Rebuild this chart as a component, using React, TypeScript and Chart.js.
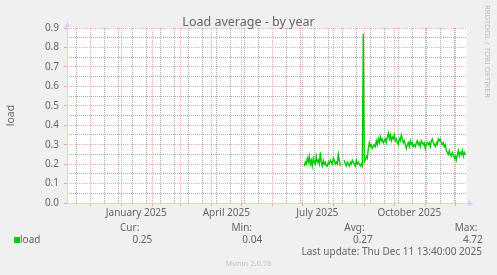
import React, { useEffect, useRef } from "react";
import { Chart, registerables } from "chart.js";

Chart.register(...registerables);

// x values are days counted from 2024-12-01
const xMin = -23.3;
const xMax = 376.7;
const firstDay = 214;

// daily load averages (null = no data)
const loadValues: (number | null)[] = [
  0.19, 0.21, 0.2, 0.23, 0.21, 0.24, 0.2, 0.22, 0.19, 0.23, 0.21, 0.2, 0.24, 0.21, 0.22, 0.2, 0.26, 0.21, 0.19,
  0.22, 0.2, 0.21, 0.19, 0.19, 0.21, 0.2, 0.22, 0.21, 0.2, 0.23, 0.22, 0.2, 0.21, 0.2, 0.25, 0.22, 0.19,
  null, null, null,
  0.22, 0.2, 0.19, 0.21, 0.2, 0.19, 0.21, 0.2, 0.22, 0.21, 0.2, 0.19, 0.22, 0.2, 0.21, 0.2, 0.19, 0.2, 0.19,
  0.87,
  0.21, 0.22, 0.24, 0.23, 0.28, 0.31, 0.29, 0.3, 0.28, 0.29,
  0.3, 0.29, 0.32, 0.3, 0.33, 0.31, 0.34, 0.32, 0.33, 0.31,
  0.32, 0.33, 0.31, 0.34, 0.36, 0.33, 0.35, 0.32, 0.34, 0.33,
  0.35, 0.32, 0.33, 0.31, 0.3, 0.33, 0.32, 0.35, 0.33, 0.31,
  0.32, 0.3, 0.28, 0.3, 0.31, 0.29, 0.32, 0.3, 0.31, 0.29,
  0.3, 0.29, 0.31, 0.32, 0.3, 0.31, 0.29, 0.32, 0.31, 0.3,
  0.31, 0.28, 0.3, 0.31, 0.3, 0.31, 0.29, 0.32, 0.33, 0.31,
  0.3, 0.29, 0.31, 0.3, 0.33, 0.32, 0.33, 0.31, 0.3, 0.31,
  0.29, 0.3, 0.27, 0.26, 0.25, 0.27, 0.25, 0.24, 0.26, 0.25,
  0.23, 0.24, 0.22, 0.25, 0.27, 0.24, 0.26, 0.25, 0.27, 0.24,
  0.26, 0.25, 0.25,
];

const monthStartDays = [0, 31, 62, 90, 121, 151, 182, 212, 243, 274, 304, 335, 365];
const minorGridDays = [-14, 0, 14, 28, 42, 56, 70, 84, 98, 112, 126, 140, 154, 168, 182, 196, 210, 224, 238, 252, 266, 280, 294, 308, 322, 336, 350, 364];
const labelDays = [46, 136, 227, 319];
const monthLabels = ["January 2025", "April 2025", "July 2025", "October 2025"];

const yMax = 0.9;
const yStep = 0.05;

const legendLabel = "load";
const legendCur = "0.25";
const legendMin = "0.04";
const legendAvg = "0.27";
const legendMax = "4.72";
const titleText = "Load average - by year";
const yTitle = "load";
const lastUpdate = "Last update: Thu Dec 11 13:40:00 2025";
const footerText = "Munin 2.0.76";
const watermark = "RRDTOOL / TOBI OETIKER";

const FONT = "'Noto Sans', 'DejaVu Sans', sans-serif";
const TEXT = "#666666";
const AXIS = "#CFD6F8";
const MAJOR = "rgba(225,70,70,0.45)";
const MINOR = "rgba(100,100,100,0.55)";
const NONE = "rgba(0,0,0,0)";
const LINE = "#00CC00";

const isMajorY = (v: number) => Math.round(v * 100) % 10 === 0;

export default function App() {
  const ref = useRef<HTMLCanvasElement | null>(null);

  useEffect(() => {
    const canvas = ref.current;
    if (!canvas) return;

    const points = loadValues.map((v, i) => ({ x: firstDay + i, y: v }));
    const tickSet = new Set<number>([...monthStartDays, ...minorGridDays, ...labelDays]);
    const tickValues = Array.from(tickSet).sort((a, b) => a - b);
    const yTicks: number[] = [];
    for (let k = 0; k <= Math.round(yMax / yStep); k++) yTicks.push(Math.round(k * yStep * 100) / 100);

    const bgPlugin = {
      id: "munin",
      beforeDraw(chart: any) {
        const { ctx, chartArea: a } = chart;
        ctx.save();
        ctx.fillStyle = "#F0F0F0";
        ctx.fillRect(0, 0, chart.width, chart.height);
        ctx.fillStyle = "#FFFFFF";
        ctx.fillRect(a.left, a.top, a.right - a.left, a.bottom - a.top);
        ctx.restore();
      },
      afterDraw(chart: any) {
        const { ctx, chartArea: a } = chart;
        ctx.save();
        ctx.strokeStyle = AXIS;
        ctx.lineWidth = 1;
        ctx.beginPath();
        ctx.moveTo(a.left + 0.5, a.bottom + 0.5);
        ctx.lineTo(a.left + 0.5, a.top - 2);
        ctx.moveTo(a.left, a.bottom + 0.5);
        ctx.lineTo(a.right + 2, a.bottom + 0.5);
        ctx.stroke();
        ctx.fillStyle = AXIS;
        ctx.beginPath();
        ctx.moveTo(a.left + 0.5, a.top - 6.5);
        ctx.lineTo(a.left - 2.5, a.top - 1);
        ctx.lineTo(a.left + 3.5, a.top - 1);
        ctx.closePath();
        ctx.fill();
        ctx.beginPath();
        ctx.moveTo(a.right + 6.5, a.bottom + 0.5);
        ctx.lineTo(a.right + 1, a.bottom - 2.5);
        ctx.lineTo(a.right + 1, a.bottom + 3.5);
        ctx.closePath();
        ctx.fill();

        ctx.fillStyle = TEXT;
        ctx.textBaseline = "alphabetic";
        ctx.font = `12.5px ${FONT}`;
        ctx.textAlign = "center";
        ctx.fillText(titleText, 248.5, 26);

        ctx.save();
        ctx.translate(14, (a.top + a.bottom) / 2);
        ctx.rotate(-Math.PI / 2);
        ctx.font = `10.5px ${FONT}`;
        ctx.textAlign = "center";
        ctx.fillText(yTitle, 0, 0);
        ctx.restore();

        ctx.font = `10px ${FONT}`;
        ctx.textAlign = "left";
        ctx.fillText("Cur:", 120, 231);
        ctx.fillText("Min:", 231.5, 231);
        ctx.fillText("Avg:", 344.3, 231);
        ctx.fillText("Max:", 454.8, 231);
        ctx.fillText(legendLabel, 20, 243);
        ctx.textAlign = "right";
        ctx.fillText(legendCur, 152.3, 243);
        ctx.fillText(legendMin, 262.2, 243);
        ctx.fillText(legendAvg, 372.8, 243);
        ctx.fillText(legendMax, 482.8, 243);
        ctx.fillText(lastUpdate, 482, 254.5);
        ctx.fillStyle = LINE;
        ctx.fillRect(14, 237, 6, 6);

        ctx.fillStyle = "#C4C4C4";
        ctx.font = `7.6px ${FONT}`;
        ctx.textAlign = "center";
        ctx.fillText(footerText, 248.5, 265.5);

        ctx.save();
        ctx.translate(485, 5);
        ctx.rotate(Math.PI / 2);
        ctx.fillStyle = "#BDBDBD";
        ctx.font = `7.7px ${FONT}`;
        ctx.textAlign = "left";
        ctx.textBaseline = "alphabetic";
        ctx.fillText(watermark, 0, 0);
        ctx.restore();

        ctx.restore();
      },
    };

    const chart = new Chart(canvas, {
      type: "line",
      data: {
        datasets: [
          {
            data: points as any,
            borderColor: LINE,
            borderWidth: 1.4,
            pointRadius: 0,
            tension: 0,
            spanGaps: false,
            fill: false,
          },
        ],
      },
      options: {
        animation: false,
        responsive: false,
        devicePixelRatio: 1,
        parsing: false as any,
        normalized: true,
        layout: { padding: { top: 28, right: 30, left: 0, bottom: 0 } },
        plugins: {
          legend: { display: false },
          title: { display: false },
          tooltip: { enabled: false },
        },
        scales: {
          x: {
            type: "linear",
            min: xMin,
            max: xMax,
            afterBuildTicks: (s: any) => {
              s.ticks = tickValues.map((v) => ({ value: v }));
            },
            afterFit: (s: any) => {
              s.height = 72;
            },
            ticks: {
              autoSkip: false,
              maxRotation: 0,
              minRotation: 0,
              padding: 1,
              color: TEXT,
              font: { family: FONT, size: 10 },
              callback: (v: any) => {
                const i = labelDays.indexOf(Number(v));
                return i >= 0 ? monthLabels[i] : "";
              },
            },
            grid: {
              lineWidth: 1,
              color: (c: any) => {
                const v = Number(c.tick?.value);
                if (monthStartDays.includes(v)) return MAJOR;
                if (minorGridDays.includes(v)) return MINOR;
                return NONE;
              },
              tickColor: (c: any) => {
                const v = Number(c.tick?.value);
                return monthStartDays.includes(v) ? MAJOR : NONE;
              },
              tickLength: 3,
            },
            border: { display: false, dash: [1, 1] },
          },
          y: {
            min: 0,
            max: yMax,
            afterBuildTicks: (s: any) => {
              s.ticks = yTicks.map((v) => ({ value: v }));
            },
            afterFit: (s: any) => {
              s.width = 67;
            },
            ticks: {
              autoSkip: false,
              padding: 5,
              color: TEXT,
              font: { family: FONT, size: 10 },
              callback: (v: any) => (isMajorY(Number(v)) ? Number(v).toFixed(1) : ""),
            },
            grid: {
              lineWidth: 1,
              color: (c: any) => (isMajorY(Number(c.tick?.value)) ? MAJOR : MINOR),
              tickColor: (c: any) => (isMajorY(Number(c.tick?.value)) ? MAJOR : NONE),
              tickLength: 3,
            },
            border: { display: false, dash: [1, 1] },
          },
        },
      },
      plugins: [bgPlugin],
    });

    return () => chart.destroy();
  }, []);

  return (
    <div style={{ position: "fixed", left: 0, top: 0, width: 497, height: 275 }}>
      <canvas ref={ref} width={497} height={275} style={{ display: "block", width: 497, height: 275 }} />
    </div>
  );
}
